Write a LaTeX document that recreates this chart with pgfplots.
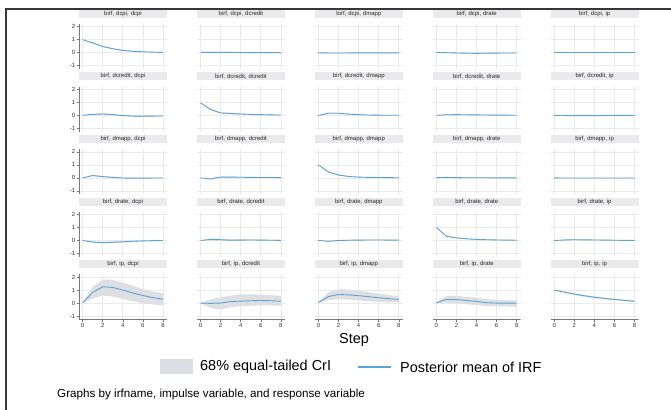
\documentclass[border=0pt]{standalone}
\usepackage{pgfplots}
\pgfplotsset{compat=1.18}
\usepackage{pgfplotstable}
\usepgfplotslibrary{fillbetween}
\usepackage{fontspec}
\setmainfont{Liberation Sans}
\definecolor{linec}{RGB}{92,162,218}
\definecolor{bandc}{RGB}{222,223,226}
\definecolor{stripc}{RGB}{234,234,236}
\definecolor{gridc}{RGB}{234,234,234}
\definecolor{axisc}{RGB}{120,120,120}
\definecolor{framec}{RGB}{55,55,55}

\pgfplotstableread{
x m lo hi
0 1.00 1.00 1.00
1 0.75 0.71 0.79
2 0.48 0.43 0.53
3 0.30 0.25 0.35
4 0.18 0.14 0.23
5 0.11 0.07 0.15
6 0.07 0.03 0.10
7 0.04 0.01 0.07
8 0.02 -0.01 0.05
}\Taa
\pgfplotstableread{
x m lo hi
0 0.03 0.00 0.06
1 0.03 -0.01 0.07
2 0.02 -0.02 0.06
3 0.02 -0.02 0.06
4 0.01 -0.02 0.05
5 0.01 -0.02 0.04
6 0.01 -0.02 0.04
7 0.01 -0.02 0.03
8 0.00 -0.02 0.03
}\Tab
\pgfplotstableread{
x m lo hi
0 -0.01 -0.03 0.01
1 -0.02 -0.05 0.01
2 -0.02 -0.05 0.01
3 -0.02 -0.05 0.01
4 -0.01 -0.04 0.01
5 -0.01 -0.03 0.01
6 -0.01 -0.03 0.01
7 -0.01 -0.03 0.01
8 -0.01 -0.03 0.01
}\Tac
\pgfplotstableread{
x m lo hi
0 0.02 0.00 0.04
1 0.00 -0.03 0.03
2 -0.02 -0.05 0.01
3 -0.04 -0.07 -0.01
4 -0.05 -0.08 -0.02
5 -0.04 -0.07 -0.01
6 -0.03 -0.06 0.00
7 -0.02 -0.05 0.01
8 -0.02 -0.04 0.01
}\Tad
\pgfplotstableread{
x m lo hi
0 0.00 -0.01 0.01
1 0.00 -0.02 0.02
2 0.00 -0.02 0.02
3 0.00 -0.02 0.02
4 0.00 -0.02 0.02
5 0.00 -0.02 0.02
6 0.00 -0.02 0.02
7 0.00 -0.02 0.02
8 0.00 -0.02 0.02
}\Tae
\pgfplotstableread{
x m lo hi
0 0.00 0.00 0.00
1 0.07 0.03 0.11
2 0.10 0.05 0.15
3 0.05 0.00 0.10
4 -0.02 -0.07 0.03
5 -0.06 -0.11 -0.01
6 -0.07 -0.12 -0.02
7 -0.06 -0.11 -0.01
8 -0.05 -0.10 0.00
}\Tba
\pgfplotstableread{
x m lo hi
0 0.95 0.95 0.95
1 0.45 0.40 0.50
2 0.18 0.13 0.23
3 0.14 0.09 0.19
4 0.10 0.06 0.14
5 0.07 0.03 0.11
6 0.05 0.02 0.08
7 0.03 0.00 0.06
8 0.02 -0.01 0.05
}\Tbb
\pgfplotstableread{
x m lo hi
0 -0.02 -0.04 0.00
1 0.16 0.12 0.20
2 0.16 0.12 0.20
3 0.09 0.05 0.13
4 0.05 0.02 0.08
5 0.02 -0.01 0.05
6 0.01 -0.02 0.04
7 0.00 -0.02 0.03
8 0.00 -0.02 0.02
}\Tbc
\pgfplotstableread{
x m lo hi
0 0.00 -0.01 0.01
1 0.04 0.01 0.07
2 0.05 0.02 0.08
3 0.04 0.01 0.07
4 0.03 0.00 0.06
5 0.02 -0.01 0.05
6 0.01 -0.01 0.04
7 0.01 -0.01 0.03
8 0.00 -0.02 0.02
}\Tbd
\pgfplotstableread{
x m lo hi
0 0.00 0.00 0.00
1 -0.02 -0.04 0.00
2 -0.03 -0.05 -0.01
3 -0.03 -0.05 -0.01
4 -0.02 -0.04 0.00
5 -0.02 -0.04 0.00
6 -0.01 -0.03 0.01
7 -0.01 -0.03 0.01
8 -0.01 -0.03 0.01
}\Tbe
\pgfplotstableread{
x m lo hi
0 0.00 0.00 0.00
1 0.18 0.13 0.23
2 0.10 0.05 0.15
3 0.04 -0.01 0.09
4 -0.01 -0.05 0.03
5 -0.02 -0.06 0.02
6 -0.02 -0.05 0.01
7 -0.01 -0.04 0.02
8 -0.01 -0.04 0.02
}\Tca
\pgfplotstableread{
x m lo hi
0 0.00 0.00 0.00
1 -0.08 -0.13 -0.03
2 0.06 0.01 0.11
3 0.06 0.02 0.10
4 0.05 0.01 0.09
5 0.04 0.01 0.07
6 0.03 0.00 0.06
7 0.03 0.00 0.06
8 0.02 -0.01 0.05
}\Tcb
\pgfplotstableread{
x m lo hi
0 1.00 1.00 1.00
1 0.45 0.41 0.49
2 0.22 0.18 0.26
3 0.11 0.08 0.14
4 0.06 0.03 0.09
5 0.04 0.01 0.07
6 0.03 0.00 0.06
7 0.02 0.00 0.04
8 0.01 -0.01 0.03
}\Tcc
\pgfplotstableread{
x m lo hi
0 0.02 0.00 0.04
1 0.04 0.01 0.07
2 0.02 -0.01 0.05
3 0.01 -0.02 0.04
4 0.01 -0.02 0.04
5 0.01 -0.01 0.03
6 0.00 -0.02 0.02
7 0.00 -0.02 0.02
8 0.00 -0.02 0.02
}\Tcd
\pgfplotstableread{
x m lo hi
0 0.00 0.00 0.00
1 -0.01 -0.03 0.01
2 -0.01 -0.03 0.01
3 -0.01 -0.03 0.01
4 -0.01 -0.03 0.01
5 -0.01 -0.03 0.01
6 -0.01 -0.03 0.01
7 -0.01 -0.03 0.01
8 -0.01 -0.03 0.01
}\Tce
\pgfplotstableread{
x m lo hi
0 0.00 0.00 0.00
1 -0.12 -0.17 -0.07
2 -0.16 -0.22 -0.10
3 -0.14 -0.20 -0.08
4 -0.10 -0.16 -0.04
5 -0.06 -0.11 -0.01
6 -0.03 -0.08 0.02
7 -0.01 -0.06 0.04
8 0.00 -0.05 0.05
}\Tda
\pgfplotstableread{
x m lo hi
0 0.00 0.00 0.00
1 0.08 0.00 0.16
2 0.06 -0.03 0.15
3 0.02 -0.06 0.10
4 0.03 -0.04 0.10
5 0.04 -0.02 0.10
6 0.03 -0.02 0.08
7 0.02 -0.03 0.07
8 0.01 -0.03 0.05
}\Tdb
\pgfplotstableread{
x m lo hi
0 0.00 0.00 0.00
1 -0.06 -0.10 -0.02
2 0.00 -0.04 0.04
3 0.02 -0.02 0.06
4 0.03 -0.01 0.07
5 0.04 0.00 0.08
6 0.04 0.00 0.08
7 0.03 0.00 0.07
8 0.03 0.00 0.06
}\Tdc
\pgfplotstableread{
x m lo hi
0 1.00 1.00 1.00
1 0.33 0.29 0.37
2 0.20 0.16 0.24
3 0.13 0.10 0.16
4 0.08 0.05 0.11
5 0.06 0.03 0.09
6 0.04 0.01 0.07
7 0.03 0.00 0.05
8 0.02 -0.01 0.04
}\Tdd
\pgfplotstableread{
x m lo hi
0 0.00 0.00 0.00
1 0.04 0.01 0.07
2 0.06 0.03 0.09
3 0.05 0.02 0.08
4 0.04 0.01 0.07
5 0.03 0.00 0.06
6 0.02 -0.01 0.05
7 0.01 -0.01 0.04
8 0.01 -0.01 0.03
}\Tde
\pgfplotstableread{
x m lo hi
0 0.02 0.00 0.04
1 0.82 0.35 1.25
2 1.25 0.58 1.80
3 1.20 0.50 1.78
4 1.00 0.33 1.58
5 0.78 0.14 1.32
6 0.58 0.00 1.08
7 0.42 -0.10 0.88
8 0.30 -0.18 0.75
}\Tea
\pgfplotstableread{
x m lo hi
0 0.00 0.00 0.00
1 -0.02 -0.38 0.30
2 0.00 -0.48 0.45
3 0.12 -0.32 0.58
4 0.15 -0.24 0.66
5 0.18 -0.20 0.68
6 0.20 -0.18 0.66
7 0.18 -0.18 0.60
8 0.15 -0.20 0.54
}\Teb
\pgfplotstableread{
x m lo hi
0 0.05 0.02 0.08
1 0.50 0.22 0.82
2 0.66 0.30 1.06
3 0.63 0.27 1.04
4 0.57 0.21 0.95
5 0.49 0.14 0.84
6 0.41 0.09 0.73
7 0.34 0.06 0.62
8 0.28 0.04 0.54
}\Tec
\pgfplotstableread{
x m lo hi
0 0.02 0.00 0.04
1 0.28 0.04 0.56
2 0.27 -0.02 0.56
3 0.20 -0.09 0.48
4 0.13 -0.15 0.40
5 0.03 -0.22 0.30
6 0.00 -0.25 0.25
7 0.00 -0.26 0.22
8 0.00 -0.27 0.20
}\Ted
\pgfplotstableread{
x m lo hi
0 1.00 1.00 1.00
1 0.84 0.79 0.89
2 0.69 0.63 0.75
3 0.56 0.50 0.62
4 0.45 0.39 0.51
5 0.36 0.30 0.42
6 0.28 0.22 0.34
7 0.21 0.15 0.27
8 0.14 0.08 0.20
}\Tee

\pgfplotsset{
  irf/.style={
    width=88bp, height=45bp, scale only axis,
    xmin=-0.36, xmax=8.4, ymin=-1.25, ymax=2.2,
    xtick={0,2,4,6,8}, ytick={-1,0,1,2},
    xticklabels={}, yticklabels={},
    grid=major, major grid style={draw=gridc, line width=0.6bp},
    axis line style={draw=none},
    tick style={draw=none}, tick align=outside, major tick length=2.5bp,
    xtick pos=left, ytick pos=left,
    ticklabel style={font=\fontsize{6}{7}\selectfont, text=black!80, inner sep=1bp},
    title style={at={(rel axis cs:0.5,1)}, anchor=south, fill=stripc,
      text width=88bp, align=center, minimum height=8bp, inner sep=0pt,
      font=\fontsize{6}{7}\selectfont, text=black!85, yshift=0pt},
  },
  ylab/.style={yticklabels={-1,0,1,2}, ytick style={draw=axisc, line width=0.5bp}},
  xlab/.style={xticklabels={0,2,4,6,8}, xtick style={draw=axisc, line width=0.5bp}},
}
\newcommand\yline{\draw[axisc, line width=0.6bp] (rel axis cs:0,0) -- (rel axis cs:0,1);}
\newcommand\xline{\draw[axisc, line width=0.6bp] (rel axis cs:0,0) -- (rel axis cs:1,0);}

\newcommand\panel[6]{%
  \pgfmathsetmacro\px{79+117.9*#1}%
  \pgfmathsetmacro\py{-(24+62.6*#2)}%
  \begin{axis}[irf, at={(\px bp,\py bp)}, anchor=north west, title={#3}, #5]
    \addplot[draw=none, name path=U] table[x=x,y=hi]{#4};
    \addplot[draw=none, name path=L] table[x=x,y=lo]{#4};
    \addplot[fill=bandc, draw=none] fill between[of=U and L];
    \addplot[linec, line width=0.9bp] table[x=x,y=m]{#4};
    #6
  \end{axis}}

\begin{document}
\begin{tikzpicture}
\draw[framec, line width=1.4bp] (6bp,-410bp) -- (6bp,-9bp) -- (671bp,-9bp);

\panel{0}{0}{birf, dcpi, dcpi}{\Taa}{ylab}{\yline}
\panel{1}{0}{birf, dcpi, dcredit}{\Tab}{}{}
\panel{2}{0}{birf, dcpi, dmapp}{\Tac}{}{}
\panel{3}{0}{birf, dcpi, drate}{\Tad}{}{}
\panel{4}{0}{birf, dcpi, ip}{\Tae}{}{}

\panel{0}{1}{birf, dcredit, dcpi}{\Tba}{ylab}{\yline}
\panel{1}{1}{birf, dcredit, dcredit}{\Tbb}{}{}
\panel{2}{1}{birf, dcredit, dmapp}{\Tbc}{}{}
\panel{3}{1}{birf, dcredit, drate}{\Tbd}{}{}
\panel{4}{1}{birf, dcredit, ip}{\Tbe}{}{}

\panel{0}{2}{birf, dmapp, dcpi}{\Tca}{ylab}{\yline}
\panel{1}{2}{birf, dmapp, dcredit}{\Tcb}{}{}
\panel{2}{2}{birf, dmapp, dmapp}{\Tcc}{}{}
\panel{3}{2}{birf, dmapp, drate}{\Tcd}{}{}
\panel{4}{2}{birf, dmapp, ip}{\Tce}{}{}

\panel{0}{3}{birf, drate, dcpi}{\Tda}{ylab}{\yline}
\panel{1}{3}{birf, drate, dcredit}{\Tdb}{}{}
\panel{2}{3}{birf, drate, dmapp}{\Tdc}{}{}
\panel{3}{3}{birf, drate, drate}{\Tdd}{}{}
\panel{4}{3}{birf, drate, ip}{\Tde}{}{}

\panel{0}{4}{birf, ip, dcpi}{\Tea}{ylab,xlab}{\yline\xline}
\panel{1}{4}{birf, ip, dcredit}{\Teb}{xlab}{\xline}
\panel{2}{4}{birf, ip, dmapp}{\Tec}{xlab}{\xline}
\panel{3}{4}{birf, ip, drate}{\Ted}{xlab}{\xline}
\panel{4}{4}{birf, ip, ip}{\Tee}{xlab}{\xline}

\node[font=\fontsize{14.5}{16}\selectfont, inner sep=0pt] at (354bp,-340bp) {Step};
\fill[bandc] (160bp,-359bp) rectangle (193bp,-374bp);
\node[anchor=west, font=\fontsize{14.5}{16}\selectfont, inner sep=0pt] at (200bp,-367bp) {68\% equal-tailed CrI};
\draw[linec, line width=1.2bp] (358bp,-367bp) -- (391bp,-367bp);
\node[anchor=west, font=\fontsize{14.5}{16}\selectfont, inner sep=0pt] at (400bp,-367bp) {Posterior mean of IRF};
\node[anchor=west, font=\fontsize{11.7}{13}\selectfont, inner sep=0pt] at (57bp,-394bp) {Graphs by irfname, impulse variable, and response variable};
\pgfresetboundingbox
\path[use as bounding box] (0,0) rectangle (671bp,-410bp);
\end{tikzpicture}
\end{document}
